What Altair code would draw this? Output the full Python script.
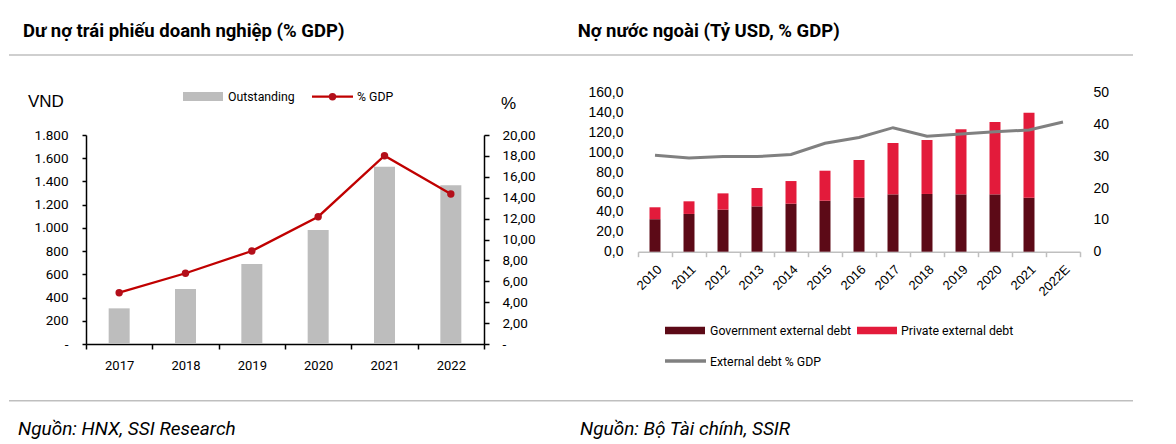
import altair as alt
import pandas as pd

# ---------------- data ----------------
years_l = ["2017", "2018", "2019", "2020", "2021", "2022"]
outstanding = [307, 474, 689, 982, 1527, 1367]
pct_gdp = [4.91, 6.77, 8.90, 12.18, 18.02, 14.35]

years_r = ["2010", "2011", "2012", "2013", "2014", "2015", "2016",
           "2017", "2018", "2019", "2020", "2021", "2022E"]
bar_years_r = years_r[:12]
gov_debt = [32.7, 38.0, 42.3, 45.6, 48.3, 51.3, 54.3, 57.7, 58.1, 57.7, 57.7, 54.3]
private_debt = [12.0, 12.7, 16.4, 18.5, 22.8, 30.2, 38.0, 51.7, 54.3, 65.5, 72.8, 85.6]
ext_pct_gdp = [30.3, 29.5, 29.9, 29.9, 30.6, 34.1, 35.9, 39.0, 36.3, 37.0, 37.7, 38.3, 40.8]

title_l = "Dư nợ trái phiếu doanh nghiệp (% GDP)"
title_r = "Nợ nước ngoài (Tỷ USD, % GDP)"
source_l = "Nguồn: HNX, SSI Research"
source_r = "Nguồn: Bộ Tài chính, SSIR"

NARROW = "Roboto"
REG = "Liberation Sans"
GRAY_BAR = "#BDBDBD"
RED_LINE = "#C00000"
MAROON = "#5C0A17"
RED = "#E31B3B"
LINE_GRAY = "#808080"
SEP = "#BFBFBF"

one = pd.DataFrame({"k": [0]})


def txt(x, y, s, size, font=NARROW, weight="normal", style="normal",
        align="left", baseline="alphabetic"):
    return alt.Chart(one).mark_text(
        align=align, baseline=baseline, fontSize=size, font=font,
        fontWeight=weight, fontStyle=style, color="black"
    ).encode(x=alt.value(x), y=alt.value(y), text=alt.value(s))


def hrule(x1, x2, y, color, width):
    return alt.Chart(one).mark_rule(color=color, strokeWidth=width).encode(
        x=alt.value(x1), x2=alt.value(x2), y=alt.value(y))


def box(x1, x2, y1, y2, color, opacity=1):
    return alt.Chart(one).mark_rect(color=color, opacity=opacity).encode(
        x=alt.value(x1), x2=alt.value(x2), y=alt.value(y1), y2=alt.value(y2))


# ---------------- left panel (plot origin at page 86,135) ----------------
WL, HL = 398, 209
ox, oy = 86, 135
dl = pd.DataFrame({"year": years_l, "out": outstanding, "pct": pct_gdp})

xl = alt.X("year:N", sort=years_l, title=None,
           scale=alt.Scale(domain=years_l, paddingInner=0, paddingOuter=0),
           axis=alt.Axis(labelAngle=0, labelFont=NARROW, labelFontSize=13,
                         labelColor="black", labelPadding=10,
                         domainColor="black", domainWidth=1.5,
                         tickColor="black", tickWidth=1.5, tickSize=5,
                         tickBand="extent", grid=False))

bars_l = alt.Chart(dl).mark_bar(size=21, color=GRAY_BAR).encode(
    x=xl,
    y=alt.Y("out:Q", title=None, scale=alt.Scale(domain=[0, 1800]),
            axis=alt.Axis(values=list(range(0, 1801, 200)),
                          labelExpr="datum.value == 0 ? '-' : replace(format(datum.value, ','), ',', '.')",
                          labelFont=NARROW, labelFontSize=13.5, labelColor="black",
                          labelPadding=14, domainColor="black", domainWidth=1.5,
                          tickColor="black", tickWidth=1.5, tickSize=4, grid=False)),
)

line_l = alt.Chart(dl).mark_line(
    color=RED_LINE, strokeWidth=2.3,
    point=alt.OverlayMarkDef(filled=True, size=55, color="#B30F1A", opacity=1),
).encode(
    x=xl,
    y=alt.Y("pct:Q", title=None, scale=alt.Scale(domain=[0, 20]),
            axis=alt.Axis(orient="right", values=list(range(0, 21, 2)),
                          labelExpr="datum.value == 0 ? '-' : replace(format(datum.value, '.2f'), '.', ',')",
                          labelFont=NARROW, labelFontSize=13.5, labelColor="black",
                          labelPadding=13, domainColor="black", domainWidth=1.5,
                          tickColor="black", tickWidth=1.5, tickSize=5, grid=False)),
)

deco_l = [
    box(8 - ox, 9 - ox, 8 - oy, 9 - oy, "white", opacity=0),  # anchors the page corner
    txt(23 - ox, 36.7 - oy, title_l, 18.5, weight="bold"),
    hrule(9 - ox, 576 - ox, 55 - oy, SEP, 1.5),
    txt(28 - ox, 107.3 - oy, "VND", 17, font=REG),
    txt(501 - ox, 109 - oy, "%", 17, font=REG),
    box(183 - ox, 223 - ox, 92 - oy, 101 - oy, GRAY_BAR),
    txt(228 - ox, 97 - oy, "Outstanding", 12.3, baseline="middle"),
    hrule(312 - ox, 353 - ox, 96.7 - oy, RED_LINE, 2.3),
    alt.Chart(one).mark_point(filled=True, size=55, color="#B30F1A", opacity=1).encode(
        x=alt.value(332.5 - ox), y=alt.value(96.7 - oy)),
    txt(357 - ox, 97 - oy, "% GDP", 12.3, baseline="middle"),
    hrule(9 - ox, 576 - ox, 400.7 - oy, SEP, 1.5),
    txt(18 - ox, 435 - oy, source_l, 19, style="italic"),
]

left = alt.layer(bars_l, line_l, *deco_l).resolve_scale(y="independent").properties(
    width=WL, height=HL)

# ---------------- right panel (plot origin at page 638; shares origin row y=135) ----------------
px, py = 638, 135
WR = 442
HR = 251.7 - py
YR_RANGE = [251.7 - py, 92.7 - py]

rows = []
for i, y in enumerate(bar_years_r):
    rows.append({"year": y, "type": "Government external debt", "value": gov_debt[i], "ord": 0})
    rows.append({"year": y, "type": "Private external debt", "value": private_debt[i], "ord": 1})
dr = pd.DataFrame(rows)
dline = pd.DataFrame({"year": years_r, "pct": ext_pct_gdp})

xr = alt.X("year:N", sort=years_r, title=None,
           scale=alt.Scale(domain=years_r, paddingInner=0, paddingOuter=0),
           axis=alt.Axis(labelAngle=-45, labelFont=REG, labelFontSize=13,
                         labelColor="black", labelPadding=6,
                         domainColor=SEP, domainWidth=1.5,
                         tickColor=SEP, tickWidth=1.5, tickSize=5,
                         tickBand="extent", grid=False))

bars_r = alt.Chart(dr).mark_bar(size=11).encode(
    x=xr,
    y=alt.Y("value:Q", stack="zero", title=None,
            scale=alt.Scale(domain=[0, 160], range=YR_RANGE),
            axis=alt.Axis(values=list(range(0, 161, 20)),
                          labelExpr="replace(format(datum.value, '.1f'), '.', ',')",
                          labelFont=REG, labelFontSize=14, labelColor="black",
                          labelPadding=15, domain=False, ticks=False, grid=False)),
    color=alt.Color("type:N", legend=None,
                    scale=alt.Scale(domain=["Government external debt", "Private external debt"],
                                    range=[MAROON, RED])),
    order=alt.Order("ord:Q"),
)

line_r = alt.Chart(dline).mark_line(color=LINE_GRAY, strokeWidth=3).encode(
    x=xr,
    y=alt.Y("pct:Q", title=None, scale=alt.Scale(domain=[0, 50], range=YR_RANGE),
            axis=alt.Axis(orient="right", values=list(range(0, 51, 10)), format="d",
                          labelFont=REG, labelFontSize=14, labelColor="black",
                          labelPadding=13, domain=False, ticks=False, grid=False)),
)

deco_r = [
    txt(577.7 - px, 36.7 - py, title_r, 18.5, weight="bold"),
    hrule(576 - px, 1133 - px, 55 - py, SEP, 1.5),
    box(665 - px, 705 - px, 326.7 - py, 334.3 - py, MAROON),
    txt(710 - px, 331 - py, "Government external debt", 12.3, baseline="middle"),
    box(857 - px, 897 - px, 326.7 - py, 334.3 - py, RED),
    txt(901 - px, 331 - py, "Private external debt", 12.3, baseline="middle"),
    hrule(665 - px, 706 - px, 361 - py, LINE_GRAY, 3.5),
    txt(710 - px, 362 - py, "External debt % GDP", 12.3, baseline="middle"),
    hrule(576 - px, 1133 - px, 400.7 - py, SEP, 1.5),
    txt(580 - px, 435 - py, source_r, 19, style="italic"),
]

right = alt.layer(bars_r, line_r, *deco_r).resolve_scale(y="independent").properties(
    width=WR, height=HR)

# flush bounds: panels are placed by their plot sizes only
chart = alt.hconcat(left, right, spacing=px - ox - WL, bounds="flush").properties(
    padding=0, background="white"
).configure_view(stroke=None).configure_axis(grid=False)

chart.save("out.html", embed_options={"renderer": "svg", "actions": False})
